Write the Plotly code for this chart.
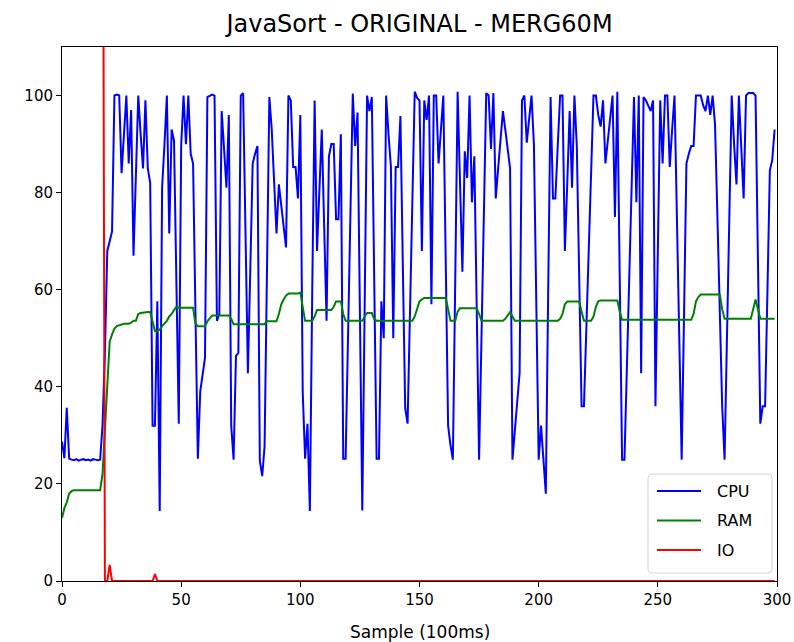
import plotly.graph_objects as go

# Resource usage per sample (one sample every 100 ms)
cpu = [
    28.7, 25.3, 35.7, 25.2, 25.0, 24.9, 25.1, 24.8, 25.0, 25.1,
    24.9, 25.0, 24.8, 25.1, 25.0, 24.9, 25.0, 32.0, 47.0, 68.0,
    70.0, 72.0, 100.0, 100.2, 100.0, 84.0, 92.0, 100.0, 86.0, 97.0,
    67.0, 83.0, 100.0, 92.0, 85.0, 99.0, 85.0, 82.0, 32.0, 32.0,
    57.6, 14.4, 81.0, 90.0, 100.0, 71.6, 93.0, 90.7, 61.0, 32.4,
    89.6, 100.0, 90.0, 100.0, 88.0, 86.0, 55.0, 25.2, 39.0, 43.0,
    46.0, 99.7, 100.0, 100.2, 100.0, 53.6, 55.0, 96.8, 89.0, 81.0,
    96.0, 32.0, 25.0, 46.4, 47.0, 100.0, 100.5, 71.0, 42.8, 64.0,
    86.0, 88.0, 89.6, 24.8, 21.6, 27.7, 64.0, 99.7, 93.0, 82.0,
    71.6, 81.7, 77.0, 73.0, 68.7, 100.0, 99.0, 85.3, 85.3, 78.8,
    96.0, 39.0, 25.2, 32.4, 14.4, 60.0, 99.0, 68.0, 80.0, 93.0,
    73.0, 53.6, 87.5, 90.0, 90.0, 74.5, 74.5, 92.0, 25.2, 25.2,
    50.0, 75.0, 100.4, 89.6, 96.5, 55.0, 14.5, 57.0, 100.0, 96.8,
    99.7, 62.0, 25.2, 25.2, 57.6, 50.0, 100.0, 92.0, 85.3, 50.0,
    85.3, 85.3, 95.8, 65.0, 35.6, 32.4, 55.0, 78.0, 100.8, 99.5,
    99.0, 68.0, 99.0, 95.0, 100.0, 57.0, 100.0, 100.0, 86.0, 93.0,
    100.0, 66.0, 32.0, 28.0, 25.0, 62.0, 100.8, 82.0, 63.7, 88.5,
    83.0, 100.0, 78.0, 87.5, 56.0, 25.0, 50.0, 75.0, 100.5, 100.0,
    89.0, 100.5, 78.8, 85.0, 91.0, 96.8, 93.0, 89.0, 85.0, 25.0,
    31.0, 37.0, 42.8, 99.0, 100.0, 90.3, 95.0, 100.0, 90.0, 58.0,
    25.0, 32.0, 25.0, 18.0, 60.0, 99.7, 78.8, 78.8, 89.6, 100.0,
    100.0, 68.0, 82.0, 96.8, 81.0, 100.0, 89.6, 63.0, 36.0, 36.0,
    52.0, 68.0, 84.0, 100.0, 100.0, 96.0, 93.6, 99.0, 86.0, 91.0,
    96.0, 100.0, 75.0, 100.8, 63.0, 25.0, 25.0, 44.0, 62.0, 81.0,
    99.7, 78.0, 100.0, 42.8, 99.7, 99.0, 98.0, 96.8, 99.0, 36.0,
    68.0, 99.0, 86.0, 100.0, 100.0, 85.3, 93.0, 100.0, 75.0, 50.0,
    25.0, 55.0, 86.0, 88.0, 89.6, 89.6, 100.0, 100.0, 100.0, 98.0,
    96.8, 100.0, 96.0, 100.0, 94.0, 75.0, 55.0, 36.0, 25.0, 50.0,
    75.0, 100.0, 90.0, 81.7, 100.0, 90.0, 78.8, 100.0, 100.5, 100.5,
    100.5, 100.0, 65.0, 32.4, 36.0, 36.0, 60.0, 84.6, 86.7, 93.0,
]

ram = [
    13.0, 15.0, 16.2, 18.0, 18.5, 18.7, 18.7, 18.7, 18.7, 18.7,
    18.7, 18.7, 18.7, 18.7, 18.7, 18.7, 18.7, 22.0, 32.0, 42.0,
    49.3, 50.8, 52.0, 52.5, 52.7, 52.9, 53.0, 53.0, 53.0, 53.2,
    53.6, 53.6, 55.0, 55.2, 55.3, 55.4, 55.4, 55.4, 53.5, 51.5,
    51.5, 51.8, 52.5, 53.0, 53.6, 54.5, 55.0, 55.8, 56.5, 56.3,
    56.3, 56.3, 56.3, 56.3, 56.3, 56.3, 53.0, 52.5, 52.5, 52.5,
    52.5, 53.5, 54.0, 54.7, 54.7, 54.7, 54.7, 54.7, 54.7, 54.7,
    54.7, 54.0, 52.9, 52.9, 52.9, 52.9, 52.9, 52.9, 52.9, 52.9,
    52.9, 52.9, 52.9, 52.9, 52.9, 52.9, 53.5, 53.5, 53.5, 53.5,
    53.5, 55.0, 57.0, 58.0, 58.8, 59.2, 59.2, 59.2, 59.2, 59.2,
    59.4, 56.0, 53.6, 53.6, 53.6, 53.6, 54.5, 55.8, 55.8, 55.8,
    55.8, 55.8, 55.8, 55.8, 56.5, 57.6, 57.6, 57.6, 55.0, 53.6,
    53.6, 53.6, 53.6, 53.6, 53.6, 53.6, 53.6, 54.5, 55.2, 55.2,
    55.2, 54.0, 53.6, 53.6, 53.6, 53.6, 53.6, 53.6, 53.6, 53.6,
    53.6, 53.6, 53.6, 53.6, 53.6, 53.6, 53.6, 53.6, 54.5, 56.0,
    57.6, 58.0, 58.3, 58.3, 58.3, 58.3, 58.3, 58.3, 58.3, 58.3,
    58.3, 58.3, 56.0, 53.6, 53.6, 53.6, 55.5, 56.2, 56.2, 56.2,
    56.2, 56.2, 56.2, 56.2, 56.2, 55.0, 53.6, 53.6, 53.6, 53.6,
    53.6, 53.6, 53.6, 53.6, 53.6, 53.6, 54.0, 54.7, 55.4, 54.5,
    53.6, 53.6, 53.6, 53.6, 53.6, 53.6, 53.6, 53.6, 53.6, 53.6,
    53.6, 53.6, 53.6, 53.6, 53.6, 53.6, 53.6, 53.6, 53.6, 54.0,
    55.0, 57.0, 57.6, 57.6, 57.6, 57.6, 57.6, 57.6, 55.5, 53.6,
    53.6, 53.6, 53.6, 54.5, 56.5, 57.6, 57.8, 57.8, 57.8, 57.8,
    57.8, 57.8, 57.8, 57.8, 55.5, 53.8, 53.8, 53.8, 53.8, 53.8,
    53.8, 53.8, 53.8, 53.8, 53.8, 53.8, 53.8, 53.8, 53.8, 53.8,
    53.8, 53.8, 53.8, 53.8, 53.8, 53.8, 53.8, 53.8, 53.8, 53.8,
    53.8, 53.8, 53.8, 53.8, 53.8, 55.0, 57.6, 58.5, 59.0, 59.0,
    59.0, 59.0, 59.0, 59.0, 59.0, 59.0, 59.0, 56.0, 54.0, 54.0,
    54.0, 54.0, 54.0, 54.0, 54.0, 54.0, 54.0, 54.0, 54.0, 54.0,
    56.0, 58.0, 56.0, 54.0, 54.0, 54.0, 54.0, 54.0, 54.0, 54.0,
]

io = [
    640.0, 610.0, 590.0, 575.0, 560.0, 540.0, 520.0, 505.0, 490.0, 470.0,
    455.0, 440.0, 420.0, 400.0, 380.0, 350.0, 310.0, 190.0, 0.0, 0.0,
    3.3, 0.0, 0.0, 0.0, 0.0, 0.0, 0.0, 0.0, 0.0, 0.0,
    0.0, 0.0, 0.0, 0.0, 0.0, 0.0, 0.0, 0.0, 0.0, 1.4,
] + [0.0] * 260

series_names = ["CPU", "RAM", "IO"]
series_colors = ["#0000ff", "#008000", "#ff0000"]

samples = list(range(len(cpu)))

x_ticks = [0, 50, 100, 150, 200, 250, 300]
y_ticks = [0, 20, 40, 60, 80, 100]

FONT = "DejaVu Sans"
W, H = 794, 642
M_L, M_R, M_T, M_B = 62, 17, 47, 61
PLOT_W = W - M_L - M_R
PLOT_H = H - M_T - M_B


def px_x(px):
    """Horizontal pixel position -> paper coordinate."""
    return (px - M_L) / PLOT_W


def px_y(py):
    """Vertical pixel position (from top) -> paper coordinate."""
    return (H - M_B - py) / PLOT_H


fig = go.Figure()
for name, values, color in zip(series_names, (cpu, ram, io), series_colors):
    fig.add_trace(go.Scatter(x=samples, y=values, mode="lines", name=name,
                             line=dict(color=color, width=2)))

axis_style = dict(
    showline=True, mirror=True, linecolor="black", linewidth=1,
    ticks="outside", ticklen=5, tickwidth=1, tickcolor="black",
    showgrid=False, zeroline=False, automargin=False,
    tickfont=dict(family=FONT, size=15, color="black"),
)

# Legend box in the lower-right corner, drawn with a rounded frame
bx0, bx1, by0, by1, r = 648, 772, 474, 573, 4
frame = (
    f"M {px_x(bx0 + r)},{px_y(by0)} L {px_x(bx1 - r)},{px_y(by0)} "
    f"Q {px_x(bx1)},{px_y(by0)} {px_x(bx1)},{px_y(by0 + r)} "
    f"L {px_x(bx1)},{px_y(by1 - r)} "
    f"Q {px_x(bx1)},{px_y(by1)} {px_x(bx1 - r)},{px_y(by1)} "
    f"L {px_x(bx0 + r)},{px_y(by1)} "
    f"Q {px_x(bx0)},{px_y(by1)} {px_x(bx0)},{px_y(by1 - r)} "
    f"L {px_x(bx0)},{px_y(by0 + r)} "
    f"Q {px_x(bx0)},{px_y(by0)} {px_x(bx0 + r)},{px_y(by0)} Z"
)
shapes = [dict(type="path", path=frame, xref="paper", yref="paper",
               fillcolor="rgba(255,255,255,0.85)",
               line=dict(color="#d4d4d4", width=1), layer="above")]
annotations = []
for i, (name, color) in enumerate(zip(series_names, series_colors)):
    ly = 491 + i * 29.5
    shapes.append(dict(type="line", xref="paper", yref="paper",
                       x0=px_x(657), x1=px_x(701), y0=px_y(ly), y1=px_y(ly),
                       line=dict(color=color, width=2), layer="above"))
    annotations.append(dict(text=name, xref="paper", yref="paper",
                            x=px_x(715), y=px_y(ly), xanchor="left",
                            yanchor="middle", showarrow=False,
                            font=dict(family=FONT, size=16, color="black")))

# x-axis label
annotations.append(dict(text="Sample (100ms)", xref="paper", yref="paper",
                        x=0.5, y=px_y(632), xanchor="center", yanchor="middle",
                        showarrow=False,
                        font=dict(family=FONT, size=17, color="black")))

fig.update_layout(
    width=W, height=H, autosize=False,
    margin=dict(l=M_L, r=M_R, t=M_T, b=M_B),
    paper_bgcolor="white", plot_bgcolor="white",
    font=dict(family=FONT, color="black"),
    title=dict(text="JavaSort - ORIGINAL - MERG60M",
               x=0.5, xref="paper", xanchor="center",
               y=1 - 24 / H, yanchor="middle",
               font=dict(family=FONT, size=24, color="black")),
    xaxis=dict(range=[0, 300], tickvals=x_ticks, **axis_style),
    yaxis=dict(range=[0, 110], tickvals=y_ticks, **axis_style),
    showlegend=False,
    shapes=shapes,
    annotations=annotations,
)

fig.write_html("out.html")
